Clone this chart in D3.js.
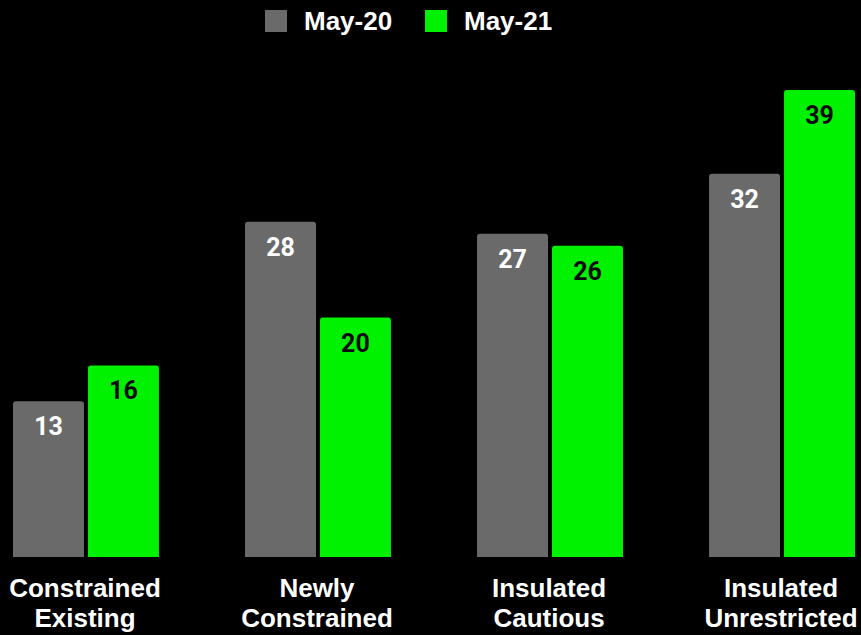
<!DOCTYPE html>
<html>
<head>
<meta charset="utf-8">
<script src="https://cdn.jsdelivr.net/npm/d3@7"></script>
<style>
  html, body { margin: 0; padding: 0; background: #000; }
  svg { display: block; font-family: "Liberation Sans", Arial, sans-serif; }
</style>
</head>
<body>
<svg id="chart" width="861" height="635"></svg>
<script>
// Segment categories (two-line labels) and survey results per wave
const categories = ["Constrained Existing", "Newly Constrained", "Insulated Cautious", "Insulated Unrestricted"];
const categoryLines = [["Constrained", "Existing"], ["Newly", "Constrained"], ["Insulated", "Cautious"], ["Insulated", "Unrestricted"]];
const seriesNames = ["May-20", "May-21"];
const may20 = [13, 28, 27, 32];
const may21 = [16, 20, 26, 39];

const colors = { "May-20": "#6a6a6a", "May-21": "#00f200" };
const labelColors = { "May-20": "#ffffff", "May-21": "#0a0a0a" };

const svg = d3.select("#chart");
const baselineY = 557;
const plotTopY = 90;

const x0 = d3.scaleBand().domain(categories).range([13, 855]).paddingInner(0.371).paddingOuter(0);
const x1 = d3.scaleBand().domain(seriesNames).range([0, x0.bandwidth()]).paddingInner(0.053).paddingOuter(0);
const y = d3.scaleLinear().domain([0, 39]).range([baselineY, plotTopY]);

const rows = [];
categories.forEach((c, i) => {
  rows.push({ cat: c, series: "May-20", value: may20[i] });
  rows.push({ cat: c, series: "May-21", value: may21[i] });
});

// bar with rounded top corners
function barPath(x, yTop, w, yBottom, r) {
  return `M${x},${yBottom}V${yTop + r}Q${x},${yTop} ${x + r},${yTop}H${x + w - r}Q${x + w},${yTop} ${x + w},${yTop + r}V${yBottom}Z`;
}

const g = svg.append("g");
g.selectAll("path.bar").data(rows).join("path")
  .attr("class", "bar")
  .attr("fill", d => colors[d.series])
  .attr("d", d => barPath(x0(d.cat) + x1(d.series), y(d.value), x1.bandwidth(), y(0), 3));

// value labels inside the bar tops
g.selectAll("text.val").data(rows).join("text")
  .attr("class", "val")
  .attr("x", d => x0(d.cat) + x1(d.series) + x1.bandwidth() / 2)
  .attr("y", d => y(d.value) + 34)
  .attr("text-anchor", "middle")
  .attr("font-family", "Roboto, 'Liberation Sans', sans-serif")
  .attr("font-size", 25)
  .attr("font-weight", "bold")
  .attr("fill", d => labelColors[d.series])
  .text(d => d.value);

// category axis labels
const xl = svg.append("g");
categories.forEach((c, i) => {
  const cx = x0(c) + x0.bandwidth() / 2 - 1;
  const t = xl.append("text")
    .attr("text-anchor", "middle")
    .attr("font-size", 26)
    .attr("font-weight", "bold")
    .attr("fill", "#ffffff");
  categoryLines[i].forEach((line, j) => {
    t.append("tspan")
      .attr("x", cx)
      .attr("y", 597 + j * 30)
      .text(line);
  });
});

// legend
const legendItems = [{ name: "May-20", x: 265 }, { name: "May-21", x: 425 }];
const lg = svg.append("g");
legendItems.forEach(it => {
  lg.append("rect").attr("x", it.x).attr("y", 10).attr("width", 22).attr("height", 22).attr("fill", colors[it.name]);
  lg.append("text").attr("x", it.x + 39).attr("y", 30)
    .attr("font-size", 26).attr("font-weight", "bold").attr("fill", "#ffffff").text(it.name);
});
</script>
</body>
</html>
